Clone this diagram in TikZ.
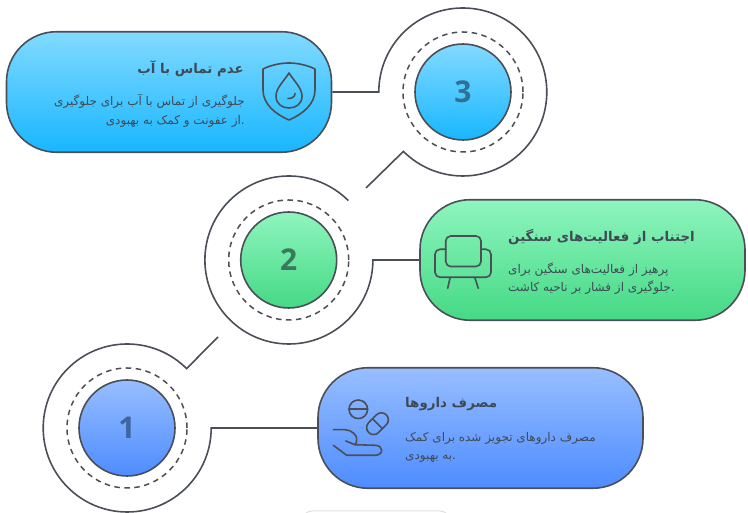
\documentclass[tikz,border=0pt]{standalone}
\usepackage{fontspec}
\TeXXeTstate=1
\newfontfamily\arabicfont[Script=Arabic]{DejaVu Sans}
\newfontfamily\numfont{Open Sans}
\definecolor{ink}{HTML}{4A4F57}
\definecolor{txt}{HTML}{3F4A55}
\definecolor{NumS}{HTML}{2F7196}
\definecolor{NumM}{HTML}{387A5E}
\definecolor{NumB}{HTML}{3D659E}
\definecolor{BlT}{HTML}{97BEFF}\definecolor{BlB}{HTML}{4E8CFF}
\definecolor{SkT}{HTML}{82DAFF}\definecolor{SkB}{HTML}{18B6FF}
\definecolor{MiT}{HTML}{8EF5BE}\definecolor{MiB}{HTML}{45D985}
\tikzset{
  line/.style={draw=ink,line width=1.6pt},
  card/.style={line,rounded corners=50pt,minimum width=325pt,minimum height=120.5pt,inner sep=0pt},
  disc/.style={circle,line,minimum size=96pt,inner sep=0pt},
  ring/.style={circle,draw=ink,line width=1.5pt,dash pattern=on 5.5pt off 4.5pt,minimum size=120pt,inner sep=0pt},
  orbit/.style={circle,minimum size=168pt,inner sep=0pt},
  num/.style={font=\numfont\bfseries\fontsize{30}{30}\selectfont},
  head/.style={font=\arabicfont\bfseries\fontsize{13.4}{15}\selectfont,text=txt,inner sep=0pt},
  body/.style={font=\arabicfont\fontsize{12}{18.3}\selectfont,text=txt,inner sep=0pt},
  icon/.style={draw=ink,line width=1.6pt,line cap=round,line join=round},
  blue/.style={top color=BlT,bottom color=BlB},
  sky/.style={top color=SkT,bottom color=SkB},
  mint/.style={top color=MiT,bottom color=MiB}
}
\begin{document}
\begin{tikzpicture}[x=1pt,y=1pt]
\useasboundingbox (0,0) rectangle (748,513);
% faint shape at the bottom edge
\begin{scope}
\clip (0,0) rectangle (748,513);
\draw[draw=gray!25,line width=1pt,rounded corners=10pt] (302,-20) rectangle (450,2);
\end{scope}
% cards
\node[card,sky]  (card3) at (169,421) {};
\node[card,mint] (card2) at (582.5,253) {};
\node[card,blue] (card1) at (480.5,85) {};
% circles
\node[orbit] (o3) at (463,421) {};
\node[orbit] (o2) at (288.7,253) {};
\node[orbit] (o1) at (127,85) {};
\node[ring] (r3) at (o3) {};
\node[ring] (r2) at (o2) {};
\node[ring] (r1) at (o1) {};
\node[disc,sky]  (d3) at (o3) {};
\node[disc,mint] (d2) at (o2) {};
\node[disc,blue] (d1) at (o1) {};
\node[num,text=NumS] (n3) at (o3) {3};
\node[num,text=NumM] (n2) at (o2) {2};
\node[num,text=NumB] (n1) at (o1) {1};
% connectors
\coordinate (t3) at (366,325);
\coordinate (t1) at (218,176);
\draw[line] (card3.east) -- (o3.west) arc[start angle=180,end angle=-135,radius=84pt] -- (t3);
\draw[line] (card2.west) -- (o2.east) arc[start angle=0,end angle=-315,radius=84pt];
\draw[line] (card1.west) -- (o1.east) arc[start angle=0,end angle=-315,radius=84pt] -- (t1);
% texts
\node[head,anchor=east] (h3) at (244,444) {\beginR عدم تماس با آب\endR};
\node[body,anchor=north east,align=right] (b3) at (245,418.5) {\beginR جلوگیری از تماس با آب برای جلوگیری\endR\\\beginR از عفونت و کمک به بهبودی\endR.};
\node[head,anchor=west] (h2) at (508,276) {\beginR اجتناب از فعالیت‌های سنگین\endR};
\node[body,anchor=north west,align=left] (b2) at (508,250.5) {\beginR پرهیز از فعالیت‌های سنگین برای\endR\\\beginR جلوگیری از فشار بر ناحیه کاشت\endR.};
\node[head,anchor=west] (h1) at (405,109) {\beginR مصرف داروها\endR};
\node[body,anchor=north west,align=left] (b1) at (405,81) {\beginR مصرف داروهای تجویز شده برای کمک\endR\\\beginR به بهبودی\endR.};
% icon: shield with drop
\draw[icon] (289,450) .. controls (280,450) and (270,447.5) .. (263,444)
  -- (263,423) .. controls (263,409) and (275,399) .. (289,393)
  .. controls (303,399) and (315,409) .. (315,423) -- (315,444)
  .. controls (308,447.5) and (298,450) .. (289,450) -- cycle;
\draw[icon] (289,440) .. controls (284,432) and (276,425) .. (276,417)
  .. controls (276,409) and (282,405) .. (289,405)
  .. controls (296,405) and (302,409) .. (302,417)
  .. controls (302,425) and (294,432) .. (289,440) -- cycle;
\draw[icon] (288,414.5) .. controls (292,414.5) and (295,416) .. (295,419.5);
% icon: armchair
\draw[icon,rounded corners=5pt] (445.7,246.5) rectangle (481,277);
\draw[icon,rounded corners=5pt] (445.7,263.7) -- (435,263.7) -- (435,235.7) -- (491,235.7) -- (491,263.7) -- (481,263.7);
\draw[icon] (450,235) -- (447.7,224.7);
\draw[icon] (475,235) -- (478.3,224.7);
% icon: pills and hand
\draw[icon] (358.3,103.7) circle[radius=9.3pt];
\draw[icon] (349,103.7) -- (367.6,103.7);
\begin{scope}[shift={(377.5,89.3)},rotate=45]
\draw[icon,rounded corners=7pt] (-12.5,-7) rectangle (12.5,7);
\draw[icon] (0,-7) -- (0,7);
\end{scope}
\draw[icon] (333.3,83.3) -- (345,83.3) .. controls (352,83.3) and (357,77) .. (356.7,74.3)
  .. controls (356.5,70) and (356,69) .. (355,68.3) -- (345.7,72);
\draw[icon] (333.3,67.7) -- (346.7,57.7) -- (375,57.7)
  .. controls (379,57.7) and (381.7,60) .. (381.7,62.7)
  .. controls (381.7,65.5) and (379,67.7) .. (375,67.7) -- (355,68.3);
\end{tikzpicture}
\end{document}
